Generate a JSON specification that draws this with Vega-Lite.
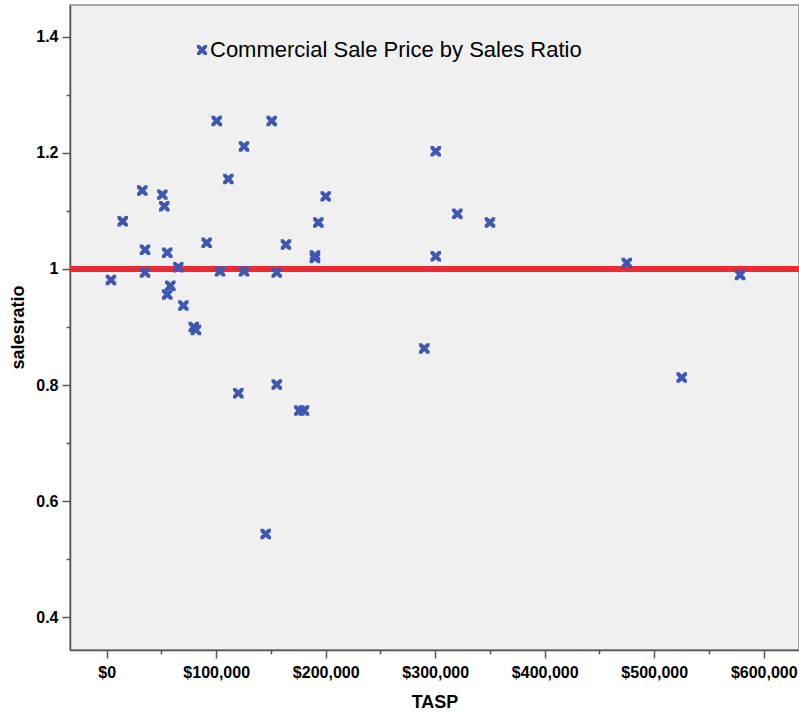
{
  "$schema": "https://vega.github.io/schema/vega-lite/v6.json",
  "autosize": "none",
  "width": 729,
  "height": 645,
  "padding": {"left": 70, "top": 5, "right": 0, "bottom": 63},
  "background": "white",
  "config": {
    "view": {"fill": "#f0f0f0", "stroke": "#8c8c8c", "strokeWidth": 1.5},
    "font": "Liberation Sans",
    "axis": {
      "grid": false,
      "domainColor": "#555555",
      "domainWidth": 1.5,
      "tickColor": "#555555",
      "tickWidth": 1.5,
      "labelColor": "#000000",
      "labelFont": "Liberation Sans",
      "labelFontSize": 16,
      "labelFontWeight": "bold",
      "titleFont": "Liberation Sans",
      "titleFontSize": 18,
      "titleFontWeight": "bold",
      "titleColor": "#000000"
    }
  },
  "data": {
    "values": [
      {"TASP": 3900, "salesratio": 0.981, "series": "Commercial Sale Price by Sales Ratio"},
      {"TASP": 14600, "salesratio": 1.082, "series": "Commercial Sale Price by Sales Ratio"},
      {"TASP": 32500, "salesratio": 1.135, "series": "Commercial Sale Price by Sales Ratio"},
      {"TASP": 35000, "salesratio": 1.033, "series": "Commercial Sale Price by Sales Ratio"},
      {"TASP": 35000, "salesratio": 0.994, "series": "Commercial Sale Price by Sales Ratio"},
      {"TASP": 50800, "salesratio": 1.128, "series": "Commercial Sale Price by Sales Ratio"},
      {"TASP": 52600, "salesratio": 1.108, "series": "Commercial Sale Price by Sales Ratio"},
      {"TASP": 55300, "salesratio": 1.028, "series": "Commercial Sale Price by Sales Ratio"},
      {"TASP": 58100, "salesratio": 0.971, "series": "Commercial Sale Price by Sales Ratio"},
      {"TASP": 55300, "salesratio": 0.956, "series": "Commercial Sale Price by Sales Ratio"},
      {"TASP": 65400, "salesratio": 1.003, "series": "Commercial Sale Price by Sales Ratio"},
      {"TASP": 70000, "salesratio": 0.937, "series": "Commercial Sale Price by Sales Ratio"},
      {"TASP": 79500, "salesratio": 0.900, "series": "Commercial Sale Price by Sales Ratio"},
      {"TASP": 81500, "salesratio": 0.895, "series": "Commercial Sale Price by Sales Ratio"},
      {"TASP": 91300, "salesratio": 1.045, "series": "Commercial Sale Price by Sales Ratio"},
      {"TASP": 100500, "salesratio": 1.255, "series": "Commercial Sale Price by Sales Ratio"},
      {"TASP": 103500, "salesratio": 0.996, "series": "Commercial Sale Price by Sales Ratio"},
      {"TASP": 111100, "salesratio": 1.155, "series": "Commercial Sale Price by Sales Ratio"},
      {"TASP": 125400, "salesratio": 1.211, "series": "Commercial Sale Price by Sales Ratio"},
      {"TASP": 125400, "salesratio": 0.996, "series": "Commercial Sale Price by Sales Ratio"},
      {"TASP": 150700, "salesratio": 1.255, "series": "Commercial Sale Price by Sales Ratio"},
      {"TASP": 155300, "salesratio": 0.994, "series": "Commercial Sale Price by Sales Ratio"},
      {"TASP": 163700, "salesratio": 1.042, "series": "Commercial Sale Price by Sales Ratio"},
      {"TASP": 190200, "salesratio": 1.023, "series": "Commercial Sale Price by Sales Ratio"},
      {"TASP": 190200, "salesratio": 1.019, "series": "Commercial Sale Price by Sales Ratio"},
      {"TASP": 193300, "salesratio": 1.080, "series": "Commercial Sale Price by Sales Ratio"},
      {"TASP": 200000, "salesratio": 1.125, "series": "Commercial Sale Price by Sales Ratio"},
      {"TASP": 120200, "salesratio": 0.786, "series": "Commercial Sale Price by Sales Ratio"},
      {"TASP": 155300, "salesratio": 0.801, "series": "Commercial Sale Price by Sales Ratio"},
      {"TASP": 145200, "salesratio": 0.5435, "series": "Commercial Sale Price by Sales Ratio"},
      {"TASP": 175900, "salesratio": 0.756, "series": "Commercial Sale Price by Sales Ratio"},
      {"TASP": 180200, "salesratio": 0.756, "series": "Commercial Sale Price by Sales Ratio"},
      {"TASP": 300500, "salesratio": 1.2026, "series": "Commercial Sale Price by Sales Ratio"},
      {"TASP": 320200, "salesratio": 1.095, "series": "Commercial Sale Price by Sales Ratio"},
      {"TASP": 350000, "salesratio": 1.080, "series": "Commercial Sale Price by Sales Ratio"},
      {"TASP": 300500, "salesratio": 1.0217, "series": "Commercial Sale Price by Sales Ratio"},
      {"TASP": 474900, "salesratio": 1.0103, "series": "Commercial Sale Price by Sales Ratio"},
      {"TASP": 578400, "salesratio": 0.9897, "series": "Commercial Sale Price by Sales Ratio"},
      {"TASP": 290000, "salesratio": 0.863, "series": "Commercial Sale Price by Sales Ratio"},
      {"TASP": 525100, "salesratio": 0.813, "series": "Commercial Sale Price by Sales Ratio"}
    ]
  },
  "layer": [
    {
      "mark": {"type": "rule", "color": "#ec2a32", "strokeWidth": 5},
      "encoding": {"y": {"datum": 1, "type": "quantitative"}}
    },
    {
      "mark": {"type": "point", "filled": true, "opacity": 1, "size": 110, "color": "#3d57b5"},
      "encoding": {
        "x": {
          "field": "TASP",
          "type": "quantitative",
          "scale": {"domain": [-33500, 632200], "nice": false, "zero": false},
          "axis": {
            "title": "TASP",
            "values": [0, 50000, 100000, 150000, 200000, 250000, 300000, 350000, 400000, 450000, 500000, 550000, 600000],
            "labelExpr": "datum.value % 100000 === 0 ? format(datum.value, '$,') : ''",
            "tickSize": {"condition": {"test": "datum.value % 100000 === 0", "value": 8}, "value": 4},
            "labelPadding": 6,
            "labelFlush": false,
            "labelOverlap": false,
            "titleY": 57,
            "titleBaseline": "alphabetic"
          }
        },
        "y": {
          "field": "salesratio",
          "type": "quantitative",
          "scale": {"domain": [0.3437, 1.4546], "nice": false, "zero": false},
          "axis": {
            "title": "salesratio",
            "values": [0.4, 0.5, 0.6, 0.7, 0.8, 0.9, 1.0, 1.1, 1.2, 1.3, 1.4],
            "labelExpr": "round(datum.value * 10) % 2 === 0 ? '' + datum.value : ''",
            "tickSize": {"condition": {"test": "round(datum.value * 10) % 2 === 0", "value": 8}, "value": 4},
            "labelPadding": 4,
            "labelFlush": false,
            "labelOverlap": false,
            "titleX": -47,
            "titleY": 322,
            "titleAngle": -90,
            "titleAlign": "center",
            "titleBaseline": "alphabetic"
          }
        },
        "shape": {
          "field": "series",
          "type": "nominal",
          "scale": {"range": ["M-1,-1L-0.45,-1L0,-0.55L0.45,-1L1,-1L1,-0.45L0.55,0L1,0.45L1,1L0.45,1L0,0.55L-0.45,1L-1,1L-1,0.45L-0.55,0L-1,-0.45Z"]},
          "legend": {
            "title": null,
            "orient": "none",
            "legendX": 121,
            "legendY": 34,
            "padding": 0,
            "labelFont": "Liberation Sans",
            "labelFontSize": 22,
            "labelColor": "#000000",
            "labelOffset": -3,
            "symbolSize": 100,
            "symbolFillColor": "#3d57b5",
            "symbolStrokeWidth": 0,
            "symbolOpacity": 1,
            "labelLimit": 0
          }
        }
      }
    }
  ]
}
